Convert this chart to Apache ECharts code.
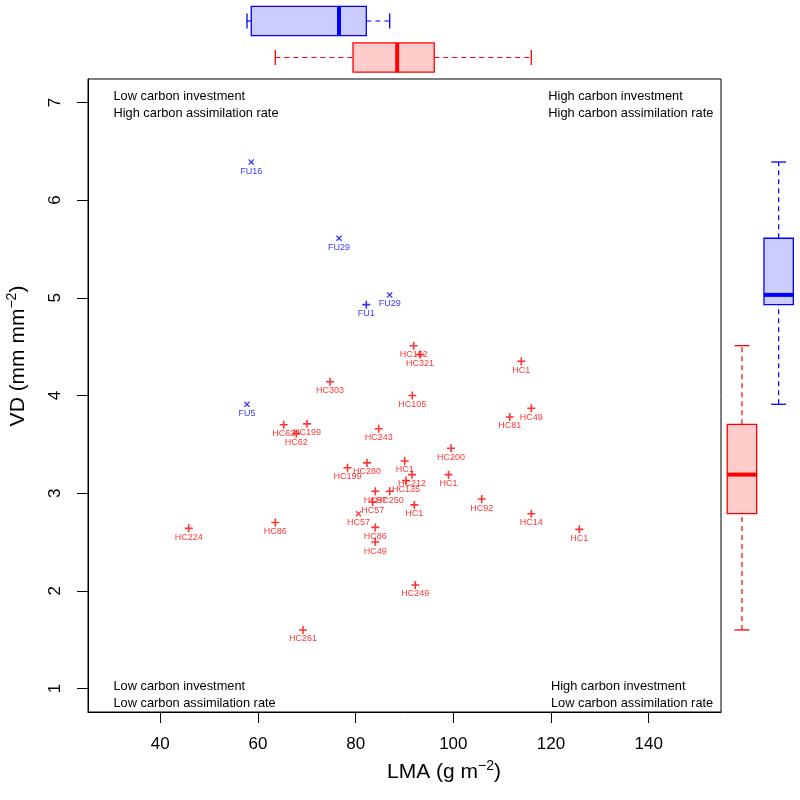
<!DOCTYPE html>
<html><head><meta charset="utf-8">
<script src="https://cdn.jsdelivr.net/npm/echarts@6/dist/echarts.min.js"></script>
<style>html,body{margin:0;padding:0;background:#fff}#c{width:800px;height:800px}</style>
</head><body><div id="c"></div>
<script>
// ---------- data ----------
const hcNames = ['HC162','HC321','HC1','HC303','HC105','HC49','HC81','HC62','HC199','HC62','HC243','HC200','HC280','HC199','HC1','HC212','HC1','HC135','HC97','HC250','HC92','HC57','HC1','HC57','HC14','HC86','HC224','HC86','HC1','HC49','HC249','HC261'];
const hcLMA = [91.88,93.17,113.91,74.75,91.60,115.96,111.54,65.27,70.04,67.85,84.72,99.52,82.32,78.33,90.04,91.54,99.01,90.31,84.02,86.97,105.81,83.49,92.01,80.58,115.96,84.02,45.82,63.55,125.79,84.02,92.21,69.22];
const hcVD  = [4.51,4.42,4.35,4.14,4.00,3.87,3.78,3.70,3.71,3.61,3.66,3.46,3.31,3.26,3.33,3.19,3.19,3.13,3.02,3.02,2.94,2.91,2.88,2.79,2.79,2.65,2.64,2.70,2.63,2.50,2.06,1.60];
const hcShape = ['+','+','+','+','+','+','+','+','+','+','+','+','+','+','+','+','+','+','+','+','+','+','+','x','+','+','+','+','+','+','+','+'];

const fuNames = ['FU5','FU16','FU29','FU1','FU29'];
const fuLMA = [57.75,58.63,76.59,82.18,86.97];
const fuVD  = [3.91,6.39,5.61,4.93,5.03];
const fuShape = ['x','x','x','+','x'];

const xTicks = [40,60,80,100,120,140];
const yTicks = [1,2,3,4,5,6,7];
const xLim = [30,150];
const yLim = [1,7];

const cornerTL = 'Low carbon investment\nHigh carbon assimilation rate';
const cornerTR = 'High carbon investment\nHigh carbon assimilation rate';
const cornerBL = 'Low carbon investment\nLow carbon assimilation rate';
const cornerBR = 'High carbon investment\nLow carbon assimilation rate';

// ---------- helpers ----------
const RED = '#FF0000', BLUE = '#0000FF';
const FILL = {HC:'#FFCCCC', FU:'#CCCCFF'};
const STROKE = {HC:RED, FU:BLUE};
const FONT = '"Liberation Sans", Arial, Helvetica, sans-serif';
const PLUS = 'path://M4,0H6V4H10V6H6V10H4V6H0V4H4Z';
const CROSS = 'path://M0,1.5L1.5,0L5,3.5L8.5,0L10,1.5L6.5,5L10,8.5L8.5,10L5,6.5L1.5,10L0,8.5L3.5,5Z';

function pad(l){const r=l[1]-l[0];return [l[0]-0.04*r,l[1]+0.04*r];}
const xR = pad(xLim), yR = pad(yLim);

// R boxplot.stats (fivenum hinges, 1.5*IQR whiskers)
function boxStats(arr){
  const x = arr.slice().sort((a,b)=>a-b), n = x.length;
  const n4 = Math.floor((n+3)/2)/2;
  const d = [1, n4, (n+1)/2, n+1-n4, n];
  const f = d.map(v => 0.5*(x[Math.floor(v)-1] + x[Math.ceil(v)-1]));
  const iqr = f[3]-f[1];
  const lo = x.filter(v => v >= f[1]-1.5*iqr)[0];
  const hiArr = x.filter(v => v <= f[3]+1.5*iqr);
  const hi = hiArr[hiArr.length-1];
  return [lo, f[1], f[2], f[3], hi];
}

function pts(names, xs, ys, shapes){
  return xs.map((v,i)=>({value:[v, ys[i]], name:names[i],
    symbol: shapes[i]==='x'?CROSS:PLUS, symbolSize: shapes[i]==='x'?6:8}));
}

function makeBox(horizontal, cats){
  return function(params, api){
    const cat = api.value(0);
    const vals = [1,2,3,4,5].map(i=>api.value(i));
    const p = vals.map(v => horizontal ? api.coord([v, cat]) : api.coord([cat, v]));
    const key = cats[cat];
    const col = STROKE[key];
    const half = 14.7, cap = 7.4;
    const dash = {stroke:col, lineWidth:1.2, lineDash:[5,4]};
    const solid = {stroke:col, lineWidth:1.3};
    const ch = [];
    if (horizontal){
      const y = p[0][1];
      ch.push({type:'line', shape:{x1:p[0][0],y1:y,x2:p[1][0],y2:y}, style:dash});
      ch.push({type:'line', shape:{x1:p[3][0],y1:y,x2:p[4][0],y2:y}, style:dash});
      ch.push({type:'line', shape:{x1:p[0][0],y1:y-cap,x2:p[0][0],y2:y+cap}, style:solid});
      ch.push({type:'line', shape:{x1:p[4][0],y1:y-cap,x2:p[4][0],y2:y+cap}, style:solid});
      ch.push({type:'rect', shape:{x:p[1][0],y:y-half,width:p[3][0]-p[1][0],height:2*half}, style:{fill:FILL[key], stroke:col, lineWidth:1.3}});
      ch.push({type:'line', shape:{x1:p[2][0],y1:y-half,x2:p[2][0],y2:y+half}, style:{stroke:col, lineWidth:4}});
    } else {
      const x = p[0][0];
      ch.push({type:'line', shape:{x1:x,y1:p[0][1],x2:x,y2:p[1][1]}, style:dash});
      ch.push({type:'line', shape:{x1:x,y1:p[3][1],x2:x,y2:p[4][1]}, style:dash});
      ch.push({type:'line', shape:{x1:x-cap,y1:p[0][1],x2:x+cap,y2:p[0][1]}, style:solid});
      ch.push({type:'line', shape:{x1:x-cap,y1:p[4][1],x2:x+cap,y2:p[4][1]}, style:solid});
      ch.push({type:'rect', shape:{x:x-half,y:p[3][1],width:2*half,height:p[1][1]-p[3][1]}, style:{fill:FILL[key], stroke:col, lineWidth:1.3}});
      ch.push({type:'line', shape:{x1:x-half,y1:p[2][1],x2:x+half,y2:p[2][1]}, style:{stroke:col, lineWidth:4}});
    }
    return {type:'group', children:ch};
  };
}

const topCats = ['FU','HC'];
const rightCats = ['HC','FU'];
const topData = [[0].concat(boxStats(fuLMA)), [1].concat(boxStats(hcLMA))];
const rightData = [[0].concat(boxStats(hcVD)), [1].concat(boxStats(fuVD))];

const labelBase = {show:true, position:'inside', offset:[0,9], formatter:'{b}', fontSize:9, fontFamily:FONT};

const chart = echarts.init(document.getElementById('c'), null, {renderer:'canvas'});
chart.setOption({
  animation:false,
  backgroundColor:'#fff',
  grid:[
    {left:88, top:79, width:633, height:633, show:true, borderColor:'#000', borderWidth:1, backgroundColor:'transparent'},
    {left:88, top:2.75, width:633, height:73},
    {left:723.6, top:79, width:73.4, height:633}
  ],
  xAxis:[
    {type:'value', gridIndex:0, min:xR[0], max:xR[1], splitLine:{show:false},
     axisLine:{show:true, onZero:false, lineStyle:{color:'#000', width:1}},
     axisTick:{show:true, customValues:xTicks, length:11, lineStyle:{color:'#000', width:1}},
     axisLabel:{customValues:xTicks, fontSize:17, color:'#000', margin:24, fontFamily:FONT}},
    {type:'value', gridIndex:1, min:xR[0], max:xR[1], show:false},
    {type:'category', gridIndex:2, data:rightCats, show:false}
  ],
  yAxis:[
    {type:'value', gridIndex:0, min:yR[0], max:yR[1], splitLine:{show:false},
     axisLine:{show:true, onZero:false, lineStyle:{color:'#000', width:1}},
     axisTick:{show:true, customValues:yTicks, length:11, lineStyle:{color:'#000', width:1}},
     axisLabel:{customValues:yTicks, fontSize:17, color:'#000', margin:24, rotate:90, fontFamily:FONT}},
    {type:'category', gridIndex:1, data:topCats, inverse:true, show:false},
    {type:'value', gridIndex:2, min:yR[0], max:yR[1], show:false}
  ],
  series:[
    {type:'scatter', xAxisIndex:0, yAxisIndex:0, data:pts(hcNames,hcLMA,hcVD,hcShape),
     itemStyle:{color:RED}, label:Object.assign({color:RED}, labelBase), silent:true},
    {type:'scatter', xAxisIndex:0, yAxisIndex:0, data:pts(fuNames,fuLMA,fuVD,fuShape),
     itemStyle:{color:BLUE}, label:Object.assign({color:BLUE}, labelBase), silent:true},
    {type:'custom', xAxisIndex:1, yAxisIndex:1, data:topData, encode:{x:[1,2,3,4,5], y:0},
     renderItem:makeBox(true, topCats), silent:true},
    {type:'custom', xAxisIndex:2, yAxisIndex:2, data:rightData, encode:{x:0, y:[1,2,3,4,5]},
     renderItem:makeBox(false, rightCats), silent:true}
  ],
  graphic:[
    {type:'text', x:113.5, y:105, style:{text:cornerTL, fill:'#000', fontSize:12.8, fontFamily:FONT, lineHeight:16.6, align:'left', verticalAlign:'middle'}},
    {type:'text', x:548.3, y:105, style:{text:cornerTR, fill:'#000', fontSize:12.8, fontFamily:FONT, lineHeight:16.6, align:'left', verticalAlign:'middle'}},
    {type:'text', x:113.5, y:695, style:{text:cornerBL, fill:'#000', fontSize:12.8, fontFamily:FONT, lineHeight:16.6, align:'left', verticalAlign:'middle'}},
    {type:'text', x:551, y:695, style:{text:cornerBR, fill:'#000', fontSize:12.8, fontFamily:FONT, lineHeight:16.6, align:'left', verticalAlign:'middle'}},
    {type:'text', x:444, y:772, style:{text:'{n|LMA (g m}{s|−2}{n|)}', align:'center', verticalAlign:'middle',
      rich:{n:{fontSize:21, fontFamily:FONT, fill:'#000', lineHeight:26}, s:{fontSize:14, fontFamily:FONT, fill:'#000', lineHeight:14, verticalAlign:'top'}}}},
    {type:'text', x:18, y:356, rotation:Math.PI/2, style:{text:'{n|VD (mm mm}{s|−2}{n|)}', align:'center', verticalAlign:'middle',
      rich:{n:{fontSize:21, fontFamily:FONT, fill:'#000', lineHeight:26}, s:{fontSize:14, fontFamily:FONT, fill:'#000', lineHeight:14, verticalAlign:'top'}}}}
  ]
});
</script>
</body></html>
